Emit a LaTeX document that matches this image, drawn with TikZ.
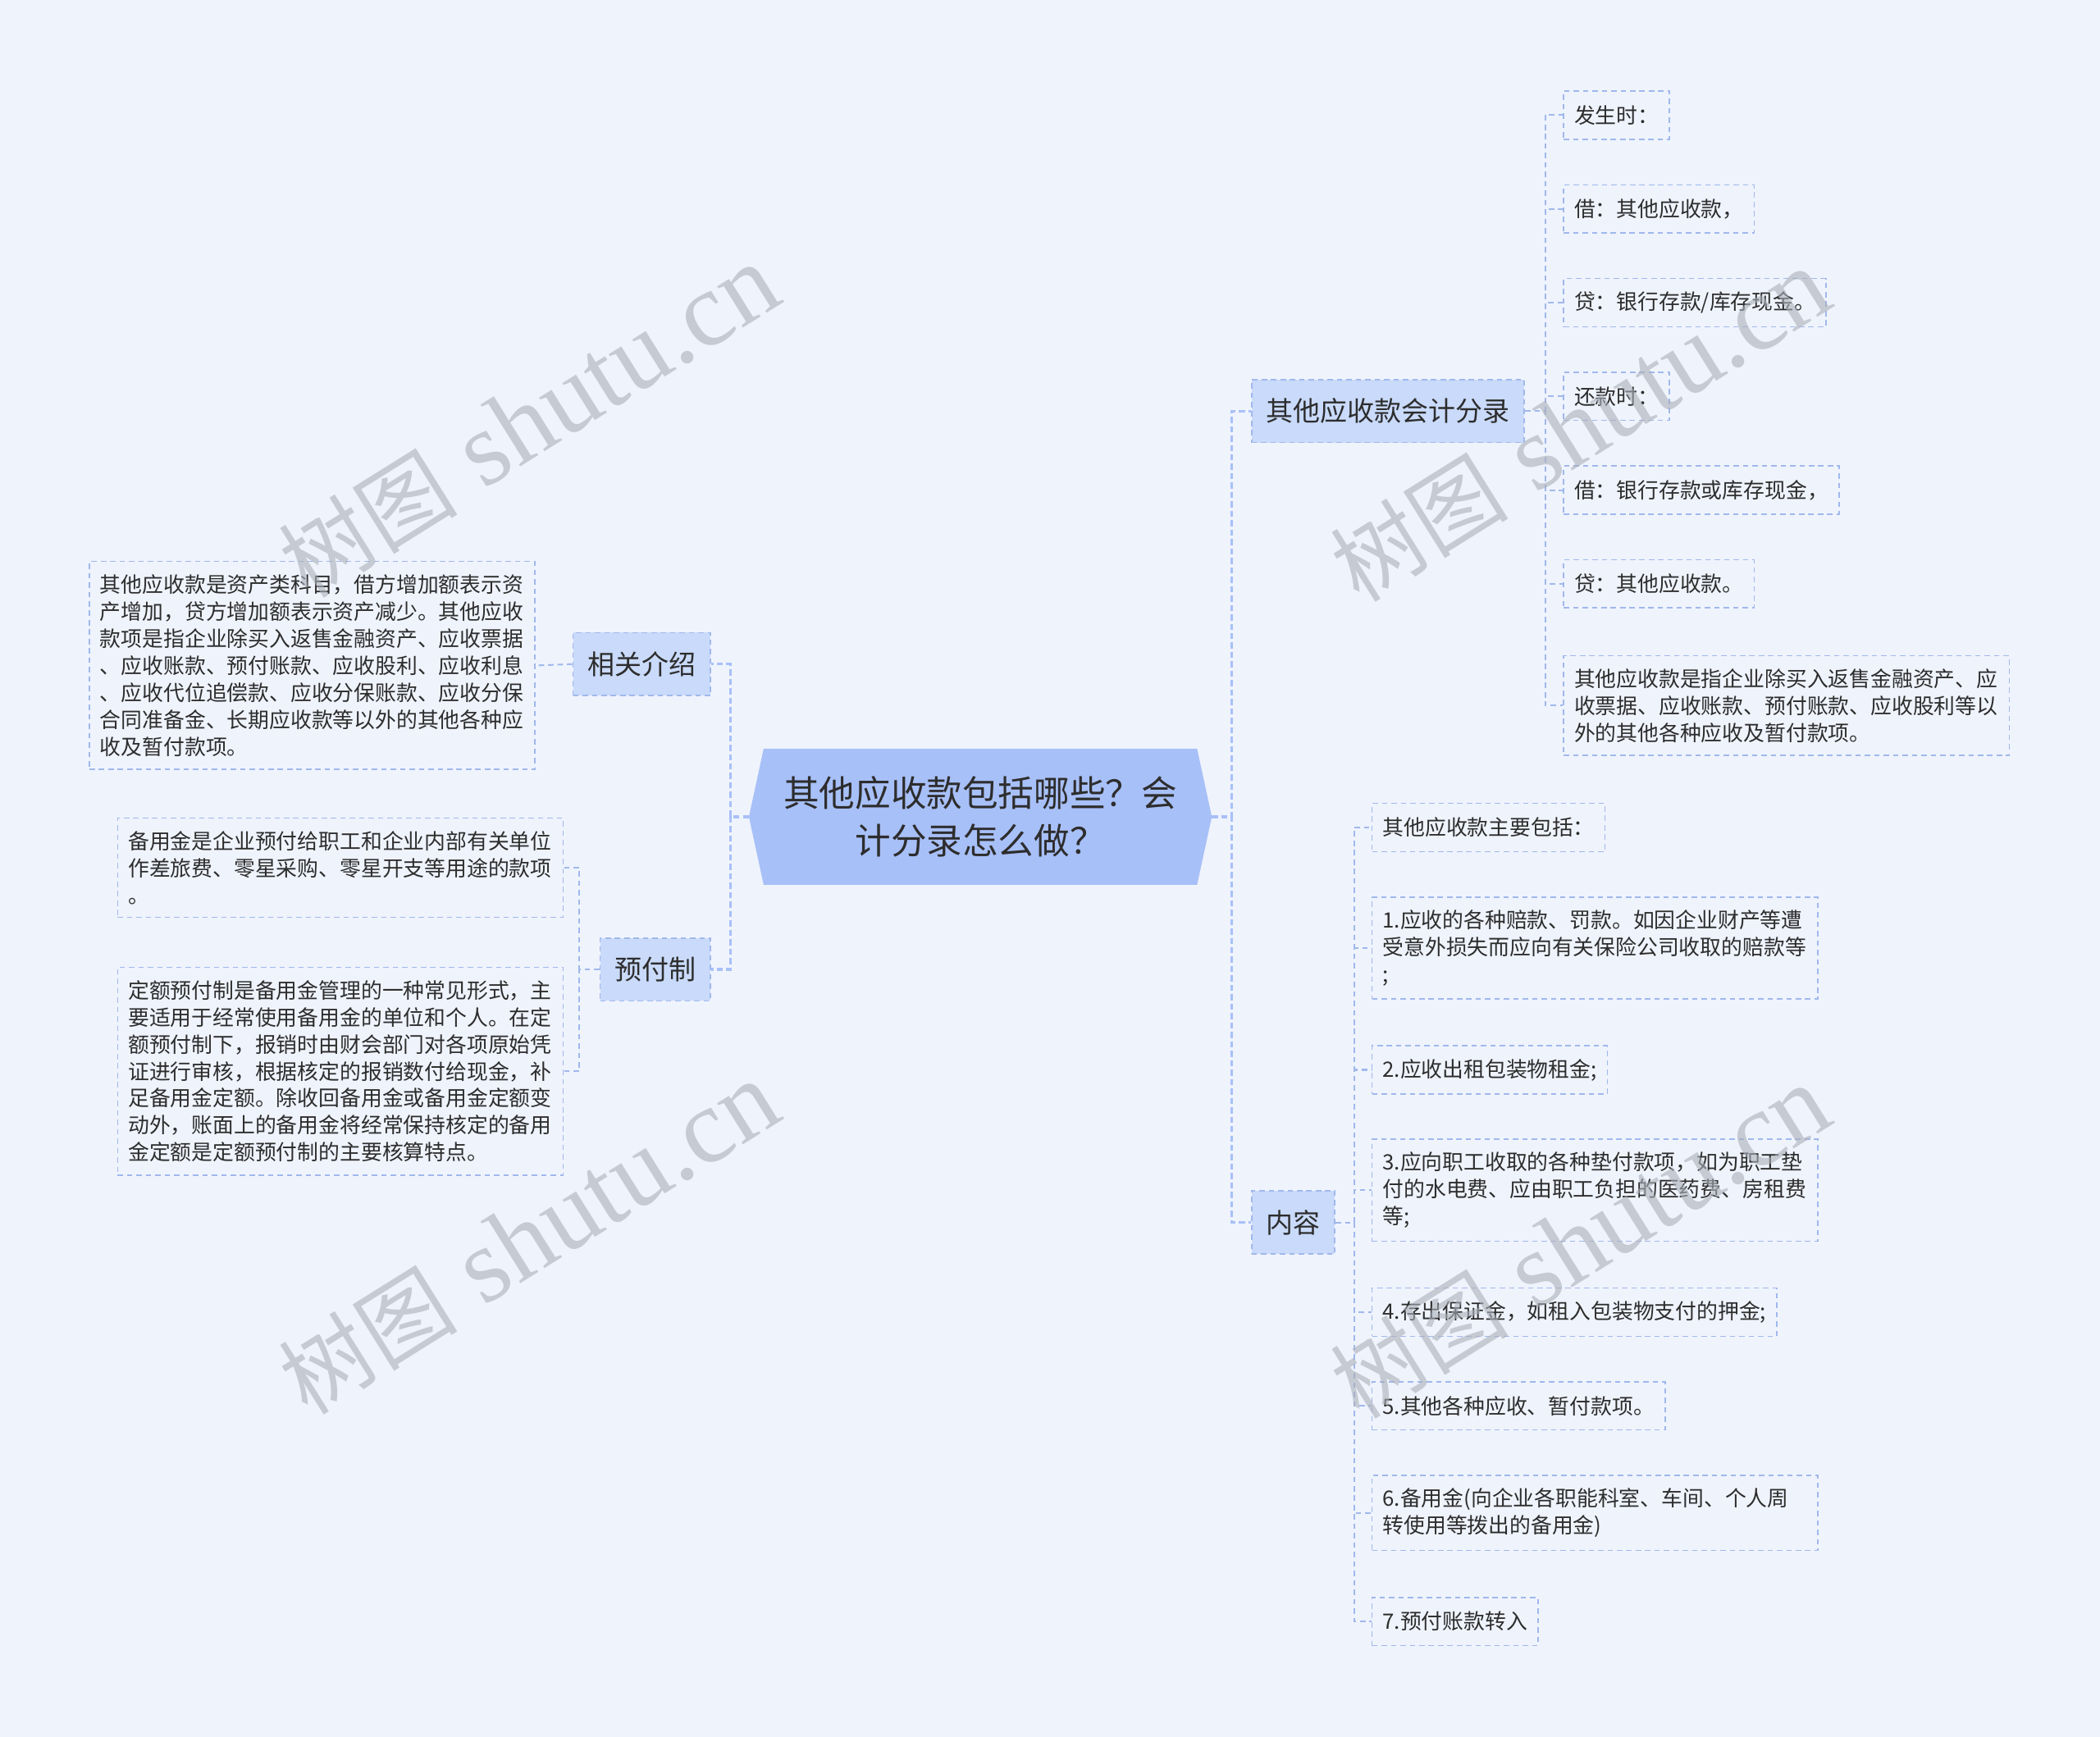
\documentclass[tikz,border=0pt]{standalone}
\usepackage{fontspec}
\setmainfont{Noto Sans CJK SC}
\newfontfamily\markfont{Liberation Serif}
\usetikzlibrary{positioning,backgrounds,calc}
\definecolor{pagebg}{RGB}{239,243,252}
\definecolor{rootblue}{RGB}{168,192,248}
\definecolor{boxblue}{RGB}{201,218,250}
\definecolor{linkblue}{RGB}{160,184,236}
\definecolor{inkgray}{RGB}{45,45,45}
\definecolor{markgray}{RGB}{170,175,185}
\tikzset{
  basebox/.style={rectangle,align=left,text=inkgray,inner sep=0pt},
  rootnode/.style={basebox,align=center,minimum width=6.9cm,minimum height=2.02cm,font=\fontsize{15.2}{20.4}\selectfont},
  branchnode/.style={basebox,fill=boxblue,draw=linkblue,line width=0.6pt,dash pattern=on 2.3pt off 1.7pt,
    inner xsep=6.2pt,minimum height=0.94cm,font=\fontsize{11.5}{14}\selectfont},
  leafnode/.style={basebox,draw=linkblue,line width=0.55pt,dash pattern=on 2.3pt off 1.7pt,
    inner xsep=4.5pt,inner ysep=5.5pt,minimum height=0.72cm,font=\fontsize{9}{11.5}\selectfont},
  longleaf/.style={leafnode,text width=6.34cm},
  link/.style={draw=linkblue,line width=0.7pt,dash pattern=on 2.3pt off 1.7pt},
  rootlink/.style={draw=rootblue,line width=1.1pt,dash pattern=on 2.6pt off 1.4pt},
  marknode/.style={text=markgray,opacity=0.6,rotate=32,inner sep=0pt}
}
\newcommand{\wmark}{{\fontsize{38}{38}\selectfont 树图}\hspace{12pt}{\markfont\fontsize{45}{45}\selectfont shutu.cn}}

\begin{document}
\begin{tikzpicture}[x=0.02cm,y=-0.02cm]
  \useasboundingbox (0,0) rectangle (1568,1297);

  %% Root
  \node[rootnode] (root) at (732,610) {其他应收款包括哪些？会\\计分录怎么做？};

  %% Branches
  \node[branchnode,anchor=west] (acct) at (934,307) {其他应收款会计分录};
  \node[branchnode,anchor=west] (content) at (934,913) {内容};
  \node[branchnode,anchor=east] (intro) at (531,496) {相关介绍};
  \node[branchnode,anchor=east] (prepay) at (531,724) {预付制};

  %% Accounting entries
  \node[leafnode,anchor=west] (acc1) at (1167,86) {发生时：};
  \node[leafnode,anchor=west] (acc2) at (1167,156) {借：其他应收款，};
  \node[leafnode,anchor=west] (acc3) at (1167,226) {贷：银行存款/库存现金。};
  \node[leafnode,anchor=west] (acc4) at (1167,296) {还款时：};
  \node[leafnode,anchor=west] (acc5) at (1167,366) {借：银行存款或库存现金，};
  \node[leafnode,anchor=west] (acc6) at (1167,436) {贷：其他应收款。};
  \node[longleaf,anchor=west] (acc7) at (1167,527) {其他应收款是指企业除买入返售金融资产、应\\收票据、应收账款、预付账款、应收股利等以\\外的其他各种应收及暂付款项。};

  %% Content items
  \node[leafnode,anchor=west] (item0) at (1024,618) {其他应收款主要包括：};
  \node[longleaf,anchor=west] (item1) at (1024,708) {1.应收的各种赔款、罚款。如因企业财产等遭\\受意外损失而应向有关保险公司收取的赔款等\\;};
  \node[leafnode,anchor=west] (item2) at (1024,799) {2.应收出租包装物租金;};
  \node[longleaf,anchor=west] (item3) at (1024,889) {3.应向职工收取的各种垫付款项，如为职工垫\\付的水电费、应由职工负担的医药费、房租费\\等;};
  \node[leafnode,anchor=west] (item4) at (1024,980) {4.存出保证金，如租入包装物支付的押金;};
  \node[leafnode,anchor=west] (item5) at (1024,1050) {5.其他各种应收、暂付款项。};
  \node[longleaf,anchor=west] (item6) at (1024,1130) {6.备用金(向企业各职能科室、车间、个人周\\转使用等拨出的备用金)};
  \node[leafnode,anchor=west] (item7) at (1024,1211) {7.预付账款转入};

  %% Left side texts
  \node[longleaf,anchor=east] (introtxt) at (400,497) {其他应收款是资产类科目，借方增加额表示资\\产增加，贷方增加额表示资产减少。其他应收\\款项是指企业除买入返售金融资产、应收票据\\、应收账款、预付账款、应收股利、应收利息\\、应收代位追偿款、应收分保账款、应收分保\\合同准备金、长期应收款等以外的其他各种应\\收及暂付款项。};
  \node[longleaf,anchor=east] (pre1) at (421,648) {备用金是企业预付给职工和企业内部有关单位\\作差旅费、零星采购、零星开支等用途的款项\\。};
  \node[longleaf,anchor=east] (pre2) at (421,800) {定额预付制是备用金管理的一种常见形式，主\\要适用于经常使用备用金的单位和个人。在定\\额预付制下，报销时由财会部门对各项原始凭\\证进行审核，根据核定的报销数付给现金，补\\足备用金定额。除收回备用金或备用金定额变\\动外，账面上的备用金将经常保持核定的备用\\金定额是定额预付制的主要核算特点。};

  %% Links
  \draw[rootlink] (root.east) -- ++(15,0) |- (acct.west);
  \draw[rootlink] (root.east) -- ++(15,0) |- (content.west);
  \draw[rootlink] (root.west) -- ++(-14,0) |- (intro.east);
  \draw[rootlink] (root.west) -- ++(-14,0) |- (prepay.east);
  \draw[link] (acct.east) -- ++(15,0) |- (acc1.west);
  \draw[link] (acct.east) -- ++(15,0) |- (acc2.west);
  \draw[link] (acct.east) -- ++(15,0) |- (acc3.west);
  \draw[link] (acct.east) -- ++(15,0) |- (acc4.west);
  \draw[link] (acct.east) -- ++(15,0) |- (acc5.west);
  \draw[link] (acct.east) -- ++(15,0) |- (acc6.west);
  \draw[link] (acct.east) -- ++(15,0) |- (acc7.west);
  \draw[link] (content.east) -- ++(14,0) |- (item0.west);
  \draw[link] (content.east) -- ++(14,0) |- (item1.west);
  \draw[link] (content.east) -- ++(14,0) |- (item2.west);
  \draw[link] (content.east) -- ++(14,0) |- (item3.west);
  \draw[link] (content.east) -- ++(14,0) |- (item4.west);
  \draw[link] (content.east) -- ++(14,0) |- (item5.west);
  \draw[link] (content.east) -- ++(14,0) |- (item6.west);
  \draw[link] (content.east) -- ++(14,0) |- (item7.west);
  \draw[link] (intro.west) -- (introtxt.east);
  \draw[link] (prepay.west) -- ++(-15,0) |- (pre1.east);
  \draw[link] (prepay.west) -- ++(-15,0) |- (pre2.east);

  %% Watermarks
  \node[marknode] (wm1) at (395,315) {\wmark};
  \node[marknode] (wm2) at (395,925) {\wmark};
  \node[marknode] (wm3) at (1180,318) {\wmark};
  \node[marknode] (wm4) at (1180,928) {\wmark};

  \begin{pgfonlayer}{background}
    \fill[pagebg] (0,0) rectangle (1568,1297);
    \fill[rootblue] (root.west) -- ([xshift=0.22cm]root.north west) -- ([xshift=-0.22cm]root.north east)
      -- (root.east) -- ([xshift=-0.22cm]root.south east) -- ([xshift=0.22cm]root.south west) -- cycle;
  \end{pgfonlayer}
\end{tikzpicture}
\end{document}
